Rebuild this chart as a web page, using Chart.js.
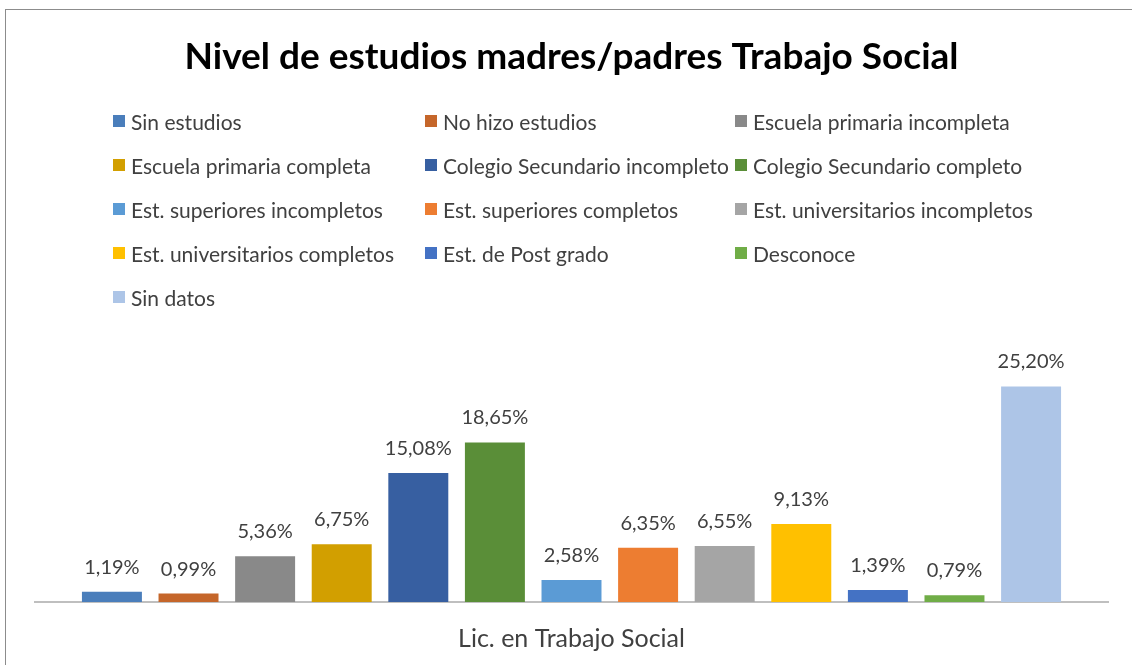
<!DOCTYPE html>
<html>
<head>
<meta charset="utf-8">
<script src="https://cdn.jsdelivr.net/npm/chart.js@4.4.1/dist/chart.umd.min.js"></script>
<style>
    html, body {
        margin: 0;
        padding: 0;
        background: #fff;
    }
    #wrap {
        position: relative;
        width: 1132px;
        height: 665px;
        overflow: hidden;
    }
    #frame {
        position: absolute;
        left: 5px;
        top: 9px;
        width: 1140px;
        height: 670px;
        border-left: 1px solid #8c8c8c;
        border-top: 1px solid #8c8c8c;
        pointer-events: none;
    }
    #legend {
        position: absolute;
        left: 113px;
        top: 99px;
        display: grid;
        grid-template-columns: 312px 310px 330px;
        grid-auto-rows: 44px;
        font-family: Lato, sans-serif;
        font-size: 21px;
        color: #404040;
    }
    #legend .item {
        display: flex;
        align-items: center;
        white-space: nowrap;
    }
    #legend .box {
        width: 12px;
        height: 12px;
        margin-right: 6px;
        flex: none;
    }
</style>
</head>
<body>
<div id="wrap">
    <canvas id="chart" width="1132" height="690"></canvas>
    <div id="legend"></div>
    <div id="frame"></div>
</div>
<script>
const categories = ['Lic. en Trabajo Social'];

const seriesNames = [
    'Sin estudios',
    'No hizo estudios',
    'Escuela primaria incompleta',
    'Escuela primaria completa',
    'Colegio Secundario incompleto',
    'Colegio Secundario completo',
    'Est. superiores incompletos',
    'Est. superiores completos',
    'Est. universitarios incompletos',
    'Est. universitarios completos',
    'Est. de Post grado',
    'Desconoce',
    'Sin datos'
];

const seriesValues = [1.19, 0.99, 5.36, 6.75, 15.08, 18.65, 2.58, 6.35, 6.55, 9.13, 1.39, 0.79, 25.20];

const seriesColors = [
    '#4a7ebb', '#c5662a', '#898989', '#d29f00', '#375fa1', '#5a8e38',
    '#5b9bd5', '#ed7d31', '#a5a5a5', '#ffc000', '#4472c4', '#70ad47', '#adc5e7'
];

// Value labels above each bar, with comma decimals
const valueLabels = {
    id: 'valueLabels',
    afterDatasetsDraw(chart) {
        const ctx = chart.ctx;
        ctx.save();
        ctx.font = '20px Lato, sans-serif';
        ctx.fillStyle = '#404040';
        ctx.textAlign = 'center';
        ctx.textBaseline = 'alphabetic';
        chart.data.datasets.forEach((ds, i) => {
            const bar = chart.getDatasetMeta(i).data[0];
            if (!bar) return;
            const text = ds.data[0].toFixed(2).replace('.', ',') + '%';
            ctx.fillText(text, bar.x, bar.y - 18);
        });
        ctx.restore();
    }
};

// HTML legend in three fixed columns
const htmlLegend = {
    id: 'htmlLegend',
    afterUpdate(chart) {
        const box = document.getElementById('legend');
        box.innerHTML = '';
        chart.data.datasets.forEach(ds => {
            const item = document.createElement('div');
            item.className = 'item';
            const sw = document.createElement('span');
            sw.className = 'box';
            sw.style.background = ds.backgroundColor;
            const txt = document.createElement('span');
            txt.textContent = ds.label;
            item.appendChild(sw);
            item.appendChild(txt);
            box.appendChild(item);
        });
    }
};

new Chart(document.getElementById('chart'), {
    type: 'bar',
    data: {
        labels: categories,
        datasets: seriesNames.map((name, i) => ({
            label: name,
            data: [seriesValues[i]],
            backgroundColor: seriesColors[i],
            borderWidth: 0,
            categoryPercentage: 0.928,
            barPercentage: 0.783
        }))
    },
    options: {
        responsive: false,
        animation: false,
        layout: {
            padding: { left: 35, right: 24, top: 0, bottom: 14 }
        },
        plugins: {
            legend: { display: false },
            tooltip: { enabled: false },
            title: {
                display: true,
                text: 'Nivel de estudios madres/padres Trabajo Social',
                color: '#000000',
                font: { family: 'Lato', size: 37, weight: 'bold' },
                padding: { top: 35, bottom: 266 }
            }
        },
        scales: {
            x: {
                grid: { display: false, drawTicks: false },
                border: { display: true, color: '#bfbfbf', width: 2 },
                ticks: {
                    color: '#404040',
                    font: { family: 'Lato', size: 25 },
                    padding: 22
                }
            },
            y: {
                display: false,
                min: 0,
                max: 30
            }
        }
    },
    plugins: [valueLabels, htmlLegend]
});
</script>
</body>
</html>
